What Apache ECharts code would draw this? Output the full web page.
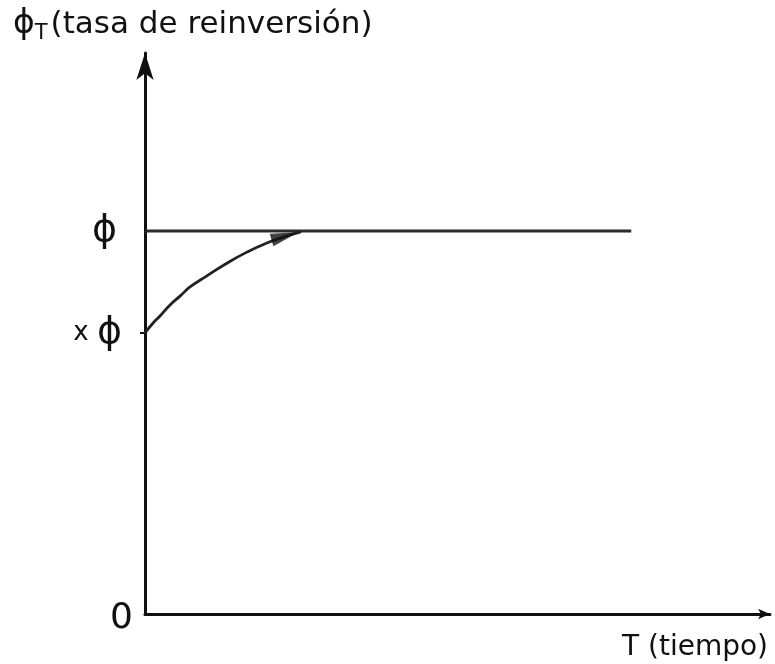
<!DOCTYPE html>
<html>
<head>
<meta charset="utf-8">
<script src="https://cdn.jsdelivr.net/npm/echarts@6/dist/echarts.min.js"></script>
<style>
  html, body { margin: 0; padding: 0; background: #fff; }
  #chart { width: 775px; height: 664px; }
</style>
</head>
<body>
<div id="chart"></div>
<script>
// Reinvestment rate ϕT over time T: starts at x·ϕ and rises toward ϕ
const curveT   = [0, 0.13, 0.24, 0.40, 0.56, 0.72, 0.99, 1.31, 1.63, 1.95, 2.21, 2.48];
const curvePhi = [0.734, 0.760, 0.778, 0.807, 0.830, 0.854, 0.883, 0.916, 0.945, 0.969, 0.984, 0.997];
const phiLevel = 1;          // ϕ
const xPhiLevel = 0.734;     // x·ϕ
const levelLineEnd = 7.78;   // where the ϕ level line stops
const arrowAt = [2.24, 0.987];
const yTickValues = [0, xPhiLevel, phiLevel];
const yTickLabels = ['0', 'x ϕ', 'ϕ'];

const FONT = '"DejaVu Sans", sans-serif';

const chart = echarts.init(document.getElementById('chart'), null, { renderer: 'canvas' });

chart.setOption({
  animation: false,
  backgroundColor: '#fff',
  title: {
    left: 8,
    top: 0,
    text: '{phi|ϕ}{sub|T}{txt|(tasa de reinversión)}',
    textStyle: {
      fontWeight: 'normal',
      rich: {
        phi: { fontFamily: FONT, fontSize: 33, color: '#111' },
        sub: { fontFamily: FONT, fontSize: 21, color: '#111', padding: [18, 3, 0, 0] },
        txt: { fontFamily: FONT, fontSize: 31, color: '#111' }
      }
    }
  },
  grid: { left: 145, right: 5, top: 53, bottom: 50 },
  xAxis: {
    type: 'value',
    min: 0,
    max: 10,
    name: 'T (tiempo)',
    nameLocation: 'end',
    nameGap: 0,
    nameTextStyle: {
      fontFamily: FONT, fontSize: 28, color: '#111',
      align: 'right', verticalAlign: 'top', padding: [20, 2, 0, 0]
    },
    axisLine: {
      onZero: false,
      symbol: ['none', 'arrow'],
      symbolSize: [8, 12],
      lineStyle: { color: '#111', width: 3 }
    },
    axisTick: { show: false },
    axisLabel: { show: false },
    splitLine: { show: false }
  },
  yAxis: {
    type: 'value',
    min: 0,
    max: 1.465,
    axisLine: {
      onZero: false,
      symbol: ['none', 'arrow'],
      symbolSize: [13, 27],
      lineStyle: { color: '#111', width: 3 }
    },
    axisTick: {
      show: true,
      customValues: [xPhiLevel],
      length: 5,
      lineStyle: { color: '#111', width: 2 }
    },
    axisLabel: {
      customValues: yTickValues,
      margin: 12,
      formatter: function (v) {
        const i = yTickValues.indexOf(v);
        const t = i >= 0 ? yTickLabels[i] : '';
        if (t === '0') return '{zero|0}';
        if (t === 'ϕ') return '{phi|ϕ}';
        return '{x|x }{phi2|ϕ}';
      },
      rich: {
        zero: { fontFamily: FONT, fontSize: 36, color: '#111', padding: [10, 0, 0, 0] },
        phi: { fontFamily: FONT, fontSize: 38, color: '#111', padding: [0, 16, 0, 0] },
        x: { fontFamily: FONT, fontSize: 26, color: '#111' },
        phi2: { fontFamily: FONT, fontSize: 38, color: '#111', padding: [0, 11, 0, 0] }
      }
    },
    splitLine: { show: false }
  },
  series: [
    {
      name: 'ϕ',
      type: 'line',
      data: [[0, phiLevel], [levelLineEnd, phiLevel]],
      symbol: 'none',
      lineStyle: { color: '#2a2a2a', width: 3 }
    },
    {
      name: 'ϕT',
      type: 'line',
      smooth: 0.5,
      data: curveT.map((t, i) => [t, curvePhi[i]]),
      symbol: 'none',
      lineStyle: { color: '#222', width: 2.8, join: 'round', cap: 'round' }
    },
    {
      name: 'flecha',
      type: 'scatter',
      data: [arrowAt],
      symbol: 'path://M0,0 L30,6 L0,12 Z',
      symbolSize: [28, 13],
      symbolRotate: 16,
      itemStyle: { color: '#111' },
      z: 5
    }
  ]
});
</script>
</body>
</html>
